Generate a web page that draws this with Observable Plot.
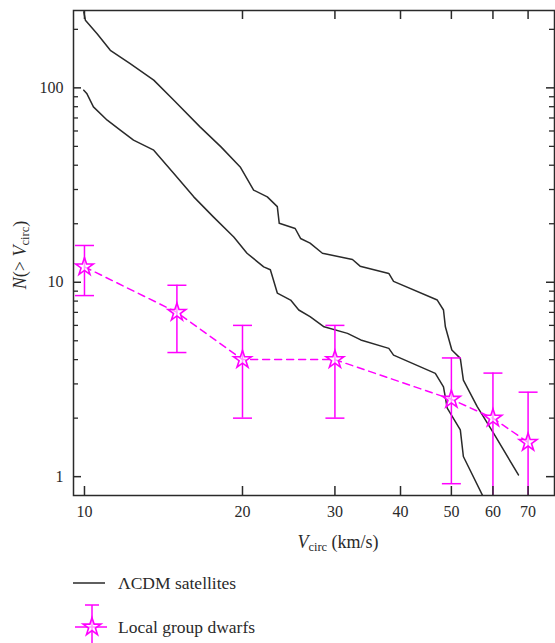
<!DOCTYPE html>
<html><head><meta charset="utf-8">
<script src="https://cdn.jsdelivr.net/npm/d3@7"></script>
<script src="https://cdn.jsdelivr.net/npm/@observablehq/plot@0.6"></script>
<style>body{margin:0;background:#fff;} #chart svg{display:block;}</style>
</head><body><div id="chart"></div>
<script>
// ---- data ----
const upperV = [9.97,10.04,10.57,11.2,12.2,13.55,14.8,16.6,18.2,19.8,21.0,22.3,23.3,23.5,25.2,25.8,26.9,28.4,32.4,33.5,38.0,38.8,47.0,48.3,48.7,50.1,52.0,52.7,56.0,60.2,67.1];
const upperN = [246,223,190,156,133.5,109.6,86.4,63,49.7,39.2,29.8,27.5,24.5,20.1,18.9,16.8,15.9,14.1,13.1,12.1,11.1,10.1,8.1,7.2,5.9,4.48,4.06,3.14,2.29,1.67,1.02];
const lowerV = [9.97,10.1,10.4,11.05,11.7,12.4,13.55,14.8,16.15,17.6,19.25,20.4,21.95,22.6,22.9,23.3,24.7,25.6,26.9,28.6,31.7,33.6,38.0,38.8,46.6,48.3,49.1,52.0,52.7,57.6];
const lowerN = [97.3,93.6,79.8,68.2,60.6,53.8,47.8,36.3,27.5,21.7,17.1,14.1,12.0,11.6,10.3,8.8,8.1,7.2,6.65,5.9,5.46,5.05,4.57,4.22,3.4,2.9,2.25,1.74,1.27,0.78];
const dwarfV = [10,15,20,30,50,60,70];
const dwarfN = [12,7,4,4,2.5,2,1.5];
const dwarfErr = [3.46,2.65,2,2,1.58,1.41,1.22];
const xTicks = [10,20,30,40,50,60,70];
const yMajor = [1,10,100];
const yMinor = [2,3,4,5,6,7,8,9,20,30,40,50,60,70,80,90,200];

// ---- tables ----
const upper = upperV.map((v,i)=>({v, n: upperN[i]}));
const lower = lowerV.map((v,i)=>({v, n: lowerN[i]}));
const dwarfs = dwarfV.map((v,i)=>({v, n: dwarfN[i], lo: dwarfN[i]-dwarfErr[i], hi: dwarfN[i]+dwarfErr[i]}));

const W=555, H=560, mL=73, mR=1, mT=10, mB=65;
const fw = W-mL-mR, fh = H-mT-mB;
const font = "'Liberation Serif', 'Times New Roman', 'DejaVu Serif', serif";
const ink = "#2a2a2a", mag = "#ff00ff";
const cap = {draw(ctx){ ctx.moveTo(-9.5,0); ctx.lineTo(9.5,0); }};

const plot = Plot.plot({
  width: W, height: H, marginLeft: mL, marginRight: mR, marginTop: mT, marginBottom: mB,
  style: {fontFamily: font, fontSize: "16px", color: ink, background: "#fff"},
  x: {type: "log", domain: [9.53, 78.6]},
  y: {type: "log", domain: [0.8, 250]},
  marks: [
    Plot.line(upper, {x: "v", y: "n", stroke: ink, strokeWidth: 1.5, clip: true}),
    Plot.line(lower, {x: "v", y: "n", stroke: ink, strokeWidth: 1.5, clip: true}),
    Plot.line(dwarfs, {x: "v", y: "n", stroke: mag, strokeWidth: 1.5, strokeDasharray: "7,5"}),
    Plot.ruleX(dwarfs, {x: "v", y1: d => Math.max(d.lo, 0.8), y2: "hi", stroke: mag, strokeWidth: 1.5}),
    Plot.dot(dwarfs, {x: "v", y: "hi", symbol: cap, fill: "none", stroke: mag, strokeWidth: 1.5}),
    Plot.dot(dwarfs.filter(d => d.lo >= 0.8), {x: "v", y: "lo", symbol: cap, fill: "none", stroke: mag, strokeWidth: 1.5}),
    Plot.dot(dwarfs, {x: "v", y: "n", symbol: "star", r: 5.6, fill: "white", fillOpacity: 0.6, stroke: mag, strokeWidth: 1.6}),
    // inward ticks
    Plot.tickX(xTicks, {x: d => d, insetTop: fh-9, stroke: ink, strokeWidth: 1.5}),
    Plot.tickX(xTicks, {x: d => d, insetBottom: fh-9, stroke: ink, strokeWidth: 1.5}),
    Plot.tickY(yMajor, {y: d => d, insetRight: fw-8, stroke: ink, strokeWidth: 1.5}),
    Plot.tickY(yMinor, {y: d => d, insetRight: fw-5, stroke: ink, strokeWidth: 1.3}),
    Plot.tickY(yMajor, {y: d => d, insetLeft: fw-8, stroke: ink, strokeWidth: 1.5}),
    Plot.tickY(yMinor, {y: d => d, insetLeft: fw-5, stroke: ink, strokeWidth: 1.3}),
    Plot.axisX({ticks: xTicks, tickSize: 0, tickPadding: 10, tickFormat: d => String(d), label: null, fill: ink}),
    Plot.axisY({ticks: yMajor, tickSize: 0, tickPadding: 10, tickFormat: d => String(d), label: null, fill: ink}),
    Plot.frame({stroke: ink, strokeWidth: 1.5})
  ]
});

const svg = d3.select(plot);
// y label
const yl = svg.append("text").attr("transform", "translate(26,255) rotate(-90)")
  .attr("text-anchor", "middle").attr("fill", ink).style("font-family", font).style("font-size", "18px");
yl.append("tspan").attr("font-style", "italic").text("N");
yl.append("tspan").text("(> ");
yl.append("tspan").attr("font-style", "italic").text("V");
yl.append("tspan").attr("font-size", "12.5px").attr("dy", 3).text("circ");
yl.append("tspan").attr("dy", -3).text(")");
// x label
const xl = svg.append("text").attr("x", 338).attr("y", 548)
  .attr("text-anchor", "middle").attr("fill", ink).style("font-family", font).style("font-size", "18px");
xl.append("tspan").attr("font-style", "italic").text("V");
xl.append("tspan").attr("font-size", "12.5px").attr("dy", 3).text("circ");
xl.append("tspan").attr("dy", -3).text(" (km/s)");

document.getElementById("chart").appendChild(plot);

// legend
const lg = d3.select("#chart").append("svg").attr("width", W).attr("height", 83)
  .style("font-family", font).style("font-size", "17.5px");
lg.append("line").attr("x1", 73).attr("x2", 105).attr("y1", 23).attr("y2", 23).attr("stroke", ink).attr("stroke-width", 1.5);
lg.append("text").attr("x", 118).attr("y", 29).attr("fill", ink).text("ΛCDM satellites");
lg.append("line").attr("x1", 75).attr("x2", 107).attr("y1", 67).attr("y2", 67).attr("stroke", mag).attr("stroke-width", 1.5);
lg.append("line").attr("x1", 92).attr("x2", 92).attr("y1", 45).attr("y2", 83).attr("stroke", mag).attr("stroke-width", 1.5);
lg.append("line").attr("x1", 85).attr("x2", 99).attr("y1", 45).attr("y2", 45).attr("stroke", mag).attr("stroke-width", 1.5);
const starPath = d3.symbol(d3.symbolStar);
lg.append("path").attr("d", starPath.size(Math.PI*5.6*5.6)()).attr("transform", "translate(92,67)").attr("fill", "white").attr("fill-opacity", 0.6).attr("stroke", mag).attr("stroke-width", 1.6);
lg.append("text").attr("x", 118).attr("y", 73).attr("fill", ink).text("Local group dwarfs");
</script>
</body></html>
